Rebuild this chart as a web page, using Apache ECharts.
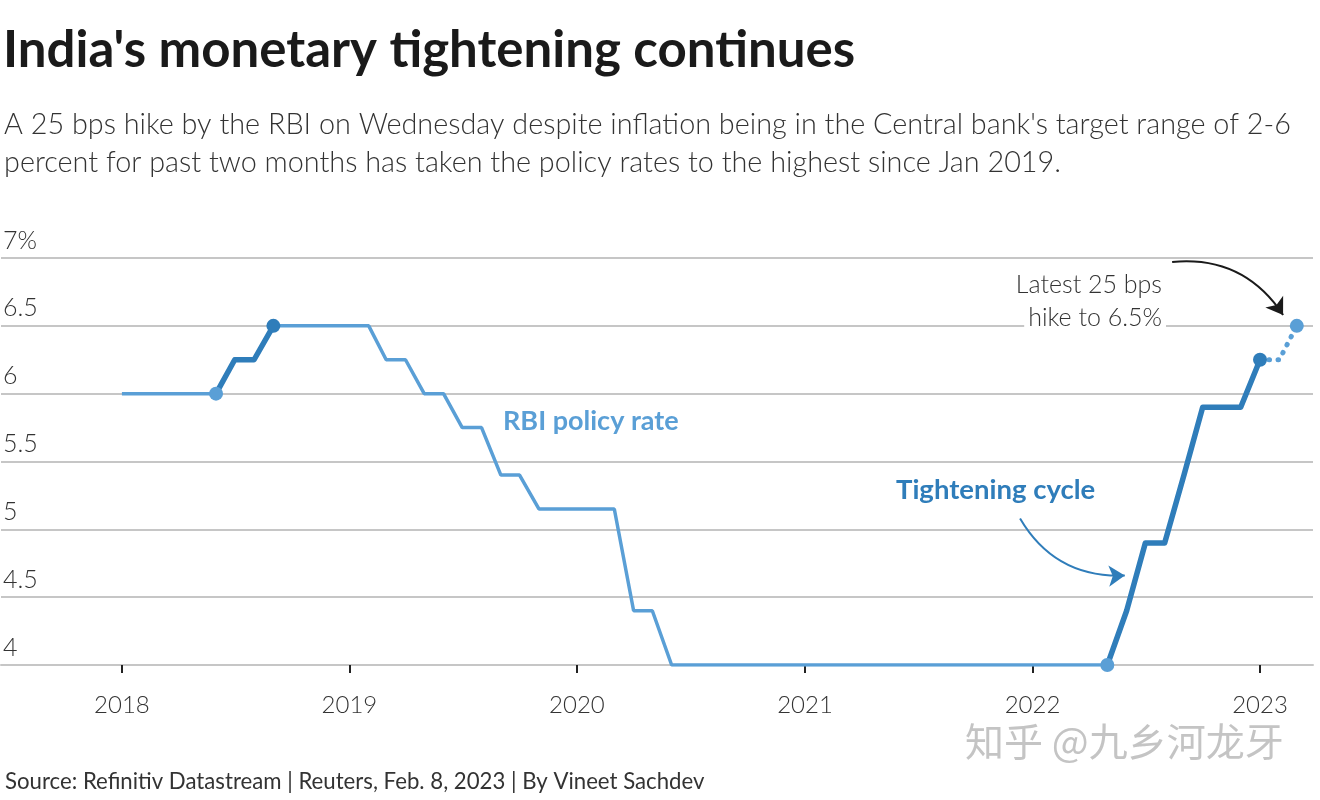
<!DOCTYPE html>
<html>
<head>
<meta charset="utf-8">
<script src="https://cdn.jsdelivr.net/npm/echarts@6/dist/echarts.min.js"></script>
<style>
html,body{margin:0;padding:0;background:#fff;}
#chart{width:1320px;height:800px;}
</style>
</head>
<body>
<div id="chart"></div>
<script>
// Monthly RBI policy (repo) rate, month-start dates
const months = [
  '2018-01-01','2018-02-01','2018-03-01','2018-04-01','2018-05-01','2018-06-01',
  '2018-07-01','2018-08-01','2018-09-01','2018-10-01','2018-11-01','2018-12-01',
  '2019-01-01','2019-02-01','2019-03-01','2019-04-01','2019-05-01','2019-06-01',
  '2019-07-01','2019-08-01','2019-09-01','2019-10-01','2019-11-01','2019-12-01',
  '2020-01-01','2020-02-01','2020-03-01','2020-04-01','2020-05-01','2020-06-01',
  '2020-07-01','2020-08-01','2020-09-01','2020-10-01','2020-11-01','2020-12-01',
  '2021-01-01','2021-02-01','2021-03-01','2021-04-01','2021-05-01','2021-06-01',
  '2021-07-01','2021-08-01','2021-09-01','2021-10-01','2021-11-01','2021-12-01',
  '2022-01-01','2022-02-01','2022-03-01','2022-04-01','2022-05-01','2022-06-01',
  '2022-07-01','2022-08-01','2022-09-01','2022-10-01','2022-11-01','2022-12-01',
  '2023-01-01','2023-02-01','2023-03-01'
];
const rates = [
  6.00,6.00,6.00,6.00,6.00,6.00,
  6.25,6.25,6.50,6.50,6.50,6.50,
  6.50,6.50,6.25,6.25,6.00,6.00,
  5.75,5.75,5.40,5.40,5.15,5.15,
  5.15,5.15,5.15,4.40,4.40,4.00,
  4.00,4.00,4.00,4.00,4.00,4.00,
  4.00,4.00,4.00,4.00,4.00,4.00,
  4.00,4.00,4.00,4.00,4.00,4.00,
  4.00,4.00,4.00,4.00,4.00,4.40,
  4.90,4.90,5.40,5.90,5.90,5.90,
  6.25,6.25,6.50
];
// Segment boundaries (dates)
const firstHikeStart = '2018-06-01', firstHikeEnd = '2018-09-01';
const tightStart = '2022-05-01', tightEnd = '2023-01-01';
const latestDate = '2023-03-01';
const yTicks = [4, 4.5, 5, 5.5, 6, 6.5, 7];

const pts = months.map((m, i) => [m, rates[i]]);
const idx = d => months.indexOf(d);
const seg = (a, b) => pts.slice(idx(a), idx(b) + 1);

const LIGHT = '#5a9fd6';
const DARK = '#2f7dba';
const FONT = 'Lato, "Noto Sans", sans-serif';

const chart = echarts.init(document.getElementById('chart'));
chart.setOption({
  animation: false,
  backgroundColor: '#fff',
  textStyle: { fontFamily: FONT },
  title: [
    { text: "India's monetary tightening continues", left: -2, top: 20,
      textStyle: { fontFamily: FONT, fontSize: 51, fontWeight: 'bold', color: '#1a1a1a' } },
    { text: "A 25 bps hike by the RBI on Wednesday despite inflation being in the Central bank's target range of 2-6\npercent for past two months has taken the policy rates to the highest since Jan 2019.",
      left: -1, top: 101,
      textStyle: { fontFamily: FONT, fontSize: 28.8, fontWeight: 300, color: '#333', lineHeight: 38 } },
    { text: 'Source: Refinitiv Datastream | Reuters, Feb. 8, 2023 | By Vineet Sachdev',
      left: 0, top: 766,
      textStyle: { fontFamily: FONT, fontSize: 22.2, fontWeight: 'normal', color: '#333' } }
  ],
  grid: { left: 0, right: 7, top: 258, bottom: 135, containLabel: false },
  xAxis: {
    type: 'time',
    min: '2017-06-21', max: '2023-03-27',
    splitNumber: 6,
    axisLine: { show: true, lineStyle: { color: '#c6c6c6', width: 2 } },
    axisTick: { show: true, length: 8, lineStyle: { color: '#222', width: 2 } },
    splitLine: { show: false },
    axisLabel: { formatter: '{yyyy}', margin: 28, fontSize: 24, color: '#333', fontFamily: FONT, fontWeight: 300 }
  },
  yAxis: {
    type: 'value', min: 4, max: 7, interval: 0.5,
    axisLine: { show: false }, axisTick: { show: false },
    splitLine: { show: true, lineStyle: { color: '#c6c6c6', width: 2 } },
    axisLabel: {
      inside: true, margin: 2, verticalAlign: 'bottom', padding: [0, 0, 5, 0],
      fontSize: 25, color: '#333', fontFamily: FONT, fontWeight: 300,
      formatter: v => (v === 7 ? '7%' : String(v))
    }
  },
  series: [
    { type: 'line', name: 'RBI policy rate', data: seg(months[0], tightEnd), showSymbol: false,
      lineStyle: { color: LIGHT, width: 3.5 }, z: 2 },
    { type: 'line', data: seg(firstHikeStart, firstHikeEnd), showSymbol: false,
      lineStyle: { color: DARK, width: 5.5, cap: 'round', join: 'round' }, z: 3 },
    { type: 'line', data: seg(tightStart, tightEnd), showSymbol: false,
      lineStyle: { color: DARK, width: 5.5, cap: 'round', join: 'round' }, z: 3 },
    { type: 'line', data: seg(tightEnd, latestDate), showSymbol: false,
      lineStyle: { color: LIGHT, width: 5, type: [0.5, 8.5], cap: 'round' }, z: 3 },
    { type: 'scatter', symbolSize: 14, z: 5,
      itemStyle: { opacity: 1 },
      data: [
        { value: pts[idx(firstHikeStart)], itemStyle: { color: LIGHT, opacity: 1 } },
        { value: pts[idx(firstHikeEnd)], itemStyle: { color: DARK, opacity: 1 } },
        { value: pts[idx(tightStart)], itemStyle: { color: LIGHT, opacity: 1 } },
        { value: pts[idx(tightEnd)], itemStyle: { color: DARK, opacity: 1 } },
        { value: pts[idx(latestDate)], itemStyle: { color: LIGHT, opacity: 1 } }
      ] },
    { type: 'lines', coordinateSystem: 'cartesian2d', z: 6,
      symbol: ['none', 'arrow'], symbolSize: 16,
      lineStyle: { color: '#1a1a1a', width: 2, curveness: 0.3, opacity: 1 },
      data: [{ coords: [['2022-08-13', 6.97], ['2023-02-07', 6.58]] }] },
    { type: 'lines', coordinateSystem: 'cartesian2d', z: 6,
      symbol: ['none', 'arrow'], symbolSize: 16,
      lineStyle: { color: DARK, width: 2, curveness: -0.3, opacity: 1 },
      data: [{ coords: [['2021-12-12', 5.08], ['2022-05-29', 4.66]] }] }
  ],
  graphic: [
    { type: 'text', left: 503, top: 408, z: 10,
      style: { text: 'RBI policy rate', font: 'bold 27px ' + FONT, fill: LIGHT } },
    { type: 'text', left: 896, top: 476, z: 10,
      style: { text: 'Tightening cycle', font: 'bold 27.5px ' + FONT, fill: DARK } },
    { type: 'text', right: 158, top: 272, z: 10,
      style: { text: 'Latest 25 bps', font: '300 25px ' + FONT, fill: '#333', align: 'right' } },
    { type: 'text', right: 154, top: 303, z: 10,
      style: { text: 'hike to 6.5%', font: '300 25px ' + FONT, fill: '#333', align: 'right',
               backgroundColor: '#fff', padding: [2, 4, 2, 4] } },
    { type: 'text', left: 965, top: 722, z: 10,
      style: { text: '知乎 @九乡河龙牙', font: '39px "Noto Sans CJK SC"', fill: '#c4c4c4' } }
  ]
});
</script>
</body>
</html>
